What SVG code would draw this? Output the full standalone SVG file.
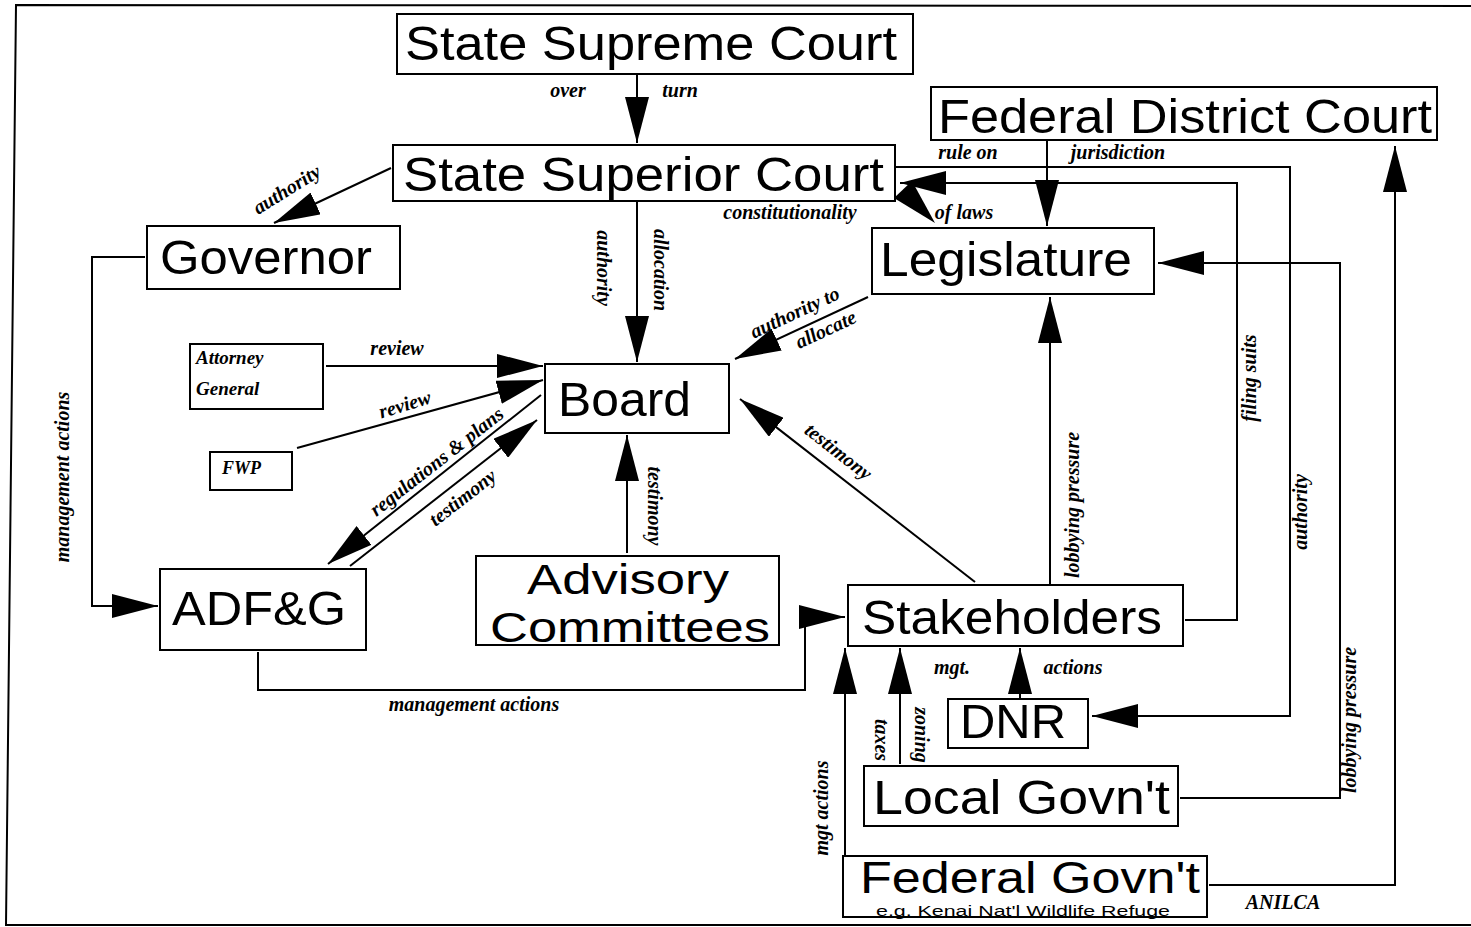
<svg xmlns="http://www.w3.org/2000/svg" width="1471" height="927" viewBox="0 0 1471 927">
<style>
.box{fill:#fff;stroke:#000;stroke-width:2}
.nt{font-family:"Liberation Sans",Arial,sans-serif;font-size:49px;fill:#000}
.lb{font-family:"Liberation Serif","Times New Roman",serif;font-style:italic;font-weight:bold;font-size:20px;fill:#000;text-anchor:middle}
.cn{fill:none;stroke:#000;stroke-width:2}
</style>
<defs>
<marker id="ah" viewBox="0 0 46 24" markerWidth="46" markerHeight="24" refX="46" refY="12" orient="auto" markerUnits="userSpaceOnUse">
<path d="M0,0 L46,12 L0,24 Z" fill="#000"/>
</marker>
</defs>
<rect width="1471" height="927" fill="#fff"/>
<path class="cn" d="M1471,6 L16,5 L6,925 L1471,925"/>

<g id="connectors">
<path class="cn" d="M637,74 L637,143" marker-end="url(#ah)"/>
<path class="cn" d="M391,168 L274,223" marker-end="url(#ah)"/>
<path class="cn" d="M637,201 L637,362" marker-end="url(#ah)"/>
<polygon points="894,198 912,181 935,223" fill="#000"/>
<path class="cn" d="M1047,140 L1047,226" marker-end="url(#ah)"/>
<path class="cn" d="M1185,620 L1237,620 L1237,183 L900,183" marker-end="url(#ah)"/>
<path class="cn" d="M895,167 L1290,167 L1290,716 L1092,716" marker-end="url(#ah)"/>
<path class="cn" d="M1180,798 L1340,798 L1340,263 L1158,263" marker-end="url(#ah)"/>
<path class="cn" d="M1209,885 L1395,885 L1395,146" marker-end="url(#ah)"/>
<path class="cn" d="M1050,584 L1050,297" marker-end="url(#ah)"/>
<path class="cn" d="M975,582 L740,399" marker-end="url(#ah)"/>
<path class="cn" d="M868,297 L735,359" marker-end="url(#ah)"/>
<path class="cn" d="M627,553 L627,435" marker-end="url(#ah)"/>
<path class="cn" d="M326,366 L543,366" marker-end="url(#ah)"/>
<path class="cn" d="M297,448 L543,380" marker-end="url(#ah)"/>
<path class="cn" d="M541,395 L328,564" marker-end="url(#ah)"/>
<path class="cn" d="M350,566 L537,420" marker-end="url(#ah)"/>
<path class="cn" d="M145,257 L92,257 L92,606 L158,606" marker-end="url(#ah)"/>
<path class="cn" d="M258,652 L258,690 L805,690 L805,617 L845,617" marker-end="url(#ah)"/>
<path class="cn" d="M1020,698 L1020,648" marker-end="url(#ah)"/>
<path class="cn" d="M900,764 L900,648" marker-end="url(#ah)"/>
<path class="cn" d="M845,855 L845,648" marker-end="url(#ah)"/>

<text class="lb" x="568" y="97">over</text>
<text class="lb" x="680" y="97">turn</text>
<text class="lb" transform="translate(287,190) rotate(-32)" x="0" y="6">authority</text>
<text class="lb" transform="translate(603,268) rotate(90)" x="0" y="6">authority</text>
<text class="lb" transform="translate(660,270) rotate(90)" x="0" y="6">allocation</text>
<text class="lb" x="790" y="219">constitutionality</text>
<text class="lb" x="968" y="159">rule on</text>
<text class="lb" x="1118" y="159">jurisdiction</text>
<text class="lb" x="964" y="219">of laws</text>
<text class="lb" transform="translate(795,313) rotate(-25)" x="0" y="6">authority to</text>
<text class="lb" transform="translate(826,330) rotate(-25)" x="0" y="6">allocate</text>
<text class="lb" x="397" y="355">review</text>
<text class="lb" transform="translate(405,405) rotate(-17)" x="0" y="6">review</text>
<text class="lb" transform="translate(437,462) rotate(-38)" x="0" y="6">regulations &amp; plans</text>
<text class="lb" transform="translate(463,498) rotate(-38)" x="0" y="6">testimony</text>
<text class="lb" transform="translate(654,506) rotate(90)" x="0" y="6">testimony</text>
<text class="lb" transform="translate(838,452) rotate(38)" x="0" y="6">testimony</text>
<text class="lb" transform="translate(1073,505) rotate(-90)" x="0" y="6">lobbying pressure</text>
<text class="lb" transform="translate(1250,378) rotate(-90)" x="0" y="6">filing suits</text>
<text class="lb" transform="translate(1301,512) rotate(-90)" x="0" y="6">authority</text>
<text class="lb" transform="translate(1350,720) rotate(-90)" x="0" y="6">lobbying pressure</text>
<text class="lb" transform="translate(63,477) rotate(-90)" x="0" y="6">management actions</text>
<text class="lb" x="474" y="711">management actions</text>
<text class="lb" x="952" y="674">mgt.</text>
<text class="lb" x="1073" y="674">actions</text>
<text class="lb" transform="translate(881,740) rotate(90)" x="0" y="6">taxes</text>
<text class="lb" transform="translate(921,735) rotate(90)" x="0" y="6">zoning</text>
<text class="lb" transform="translate(822,808) rotate(-90)" x="0" y="6">mgt actions</text>
<text class="lb" x="1283" y="909">ANILCA</text>
</g>

<g id="supreme"><rect class="box" x="397" y="14" width="516" height="60"/><text class="nt" x="405" y="60" textLength="492" lengthAdjust="spacingAndGlyphs">State Supreme Court</text></g>
<g id="superior"><rect class="box" x="393" y="145" width="502" height="56"/><text class="nt" x="403" y="191" textLength="481" lengthAdjust="spacingAndGlyphs">State Superior Court</text></g>
<g id="federal-district"><rect class="box" x="931" y="87" width="506" height="53"/><text class="nt" x="938" y="133" textLength="494" lengthAdjust="spacingAndGlyphs">Federal District Court</text></g>
<g id="governor"><rect class="box" x="147" y="226" width="253" height="63"/><text class="nt" x="160" y="274" textLength="212" lengthAdjust="spacingAndGlyphs">Governor</text></g>
<g id="legislature"><rect class="box" x="872" y="228" width="282" height="66"/><text class="nt" x="880" y="276" textLength="252" lengthAdjust="spacingAndGlyphs">Legislature</text></g>
<g id="board"><rect class="box" x="545" y="364" width="184" height="69"/><text class="nt" x="558" y="416" textLength="133" lengthAdjust="spacingAndGlyphs">Board</text></g>
<g id="attorney-general"><rect class="box" x="190" y="344" width="133" height="65"/><text class="lb" style="text-anchor:start;font-size:19px" x="196" y="364">Attorney</text><text class="lb" style="text-anchor:start;font-size:19px" x="196" y="395">General</text></g>
<g id="fwp"><rect class="box" x="210" y="452" width="82" height="38"/><text class="lb" style="text-anchor:start;font-size:18px" x="222" y="474">FWP</text></g>
<g id="adfg"><rect class="box" x="160" y="569" width="206" height="81"/><text class="nt" x="172" y="625" textLength="174" lengthAdjust="spacingAndGlyphs">ADF&amp;G</text></g>
<g id="advisory"><rect class="box" x="476" y="556" width="303" height="89"/><text class="nt" style="font-size:42px" x="527" y="594" textLength="202" lengthAdjust="spacingAndGlyphs">Advisory</text><text class="nt" style="font-size:42px" x="490" y="642" textLength="280" lengthAdjust="spacingAndGlyphs">Committees</text></g>
<g id="stakeholders"><rect class="box" x="848" y="585" width="335" height="61"/><text class="nt" x="862" y="634" textLength="300" lengthAdjust="spacingAndGlyphs">Stakeholders</text></g>
<g id="dnr"><rect class="box" x="948" y="699" width="140" height="49"/><text class="nt" x="960" y="738" textLength="106" lengthAdjust="spacingAndGlyphs">DNR</text></g>
<g id="local-govt"><rect class="box" x="864" y="766" width="314" height="60"/><text class="nt" x="873" y="814" textLength="297" lengthAdjust="spacingAndGlyphs">Local Govn't</text></g>
<g id="federal-govt"><rect class="box" x="843" y="856" width="364" height="61"/><text class="nt" style="font-size:44px" x="860" y="893" textLength="340" lengthAdjust="spacingAndGlyphs">Federal Govn't</text><text class="nt" style="font-size:14px" x="876" y="916" textLength="294" lengthAdjust="spacingAndGlyphs">e.g. Kenai Nat'l Wildlife Refuge</text></g>
</svg>
